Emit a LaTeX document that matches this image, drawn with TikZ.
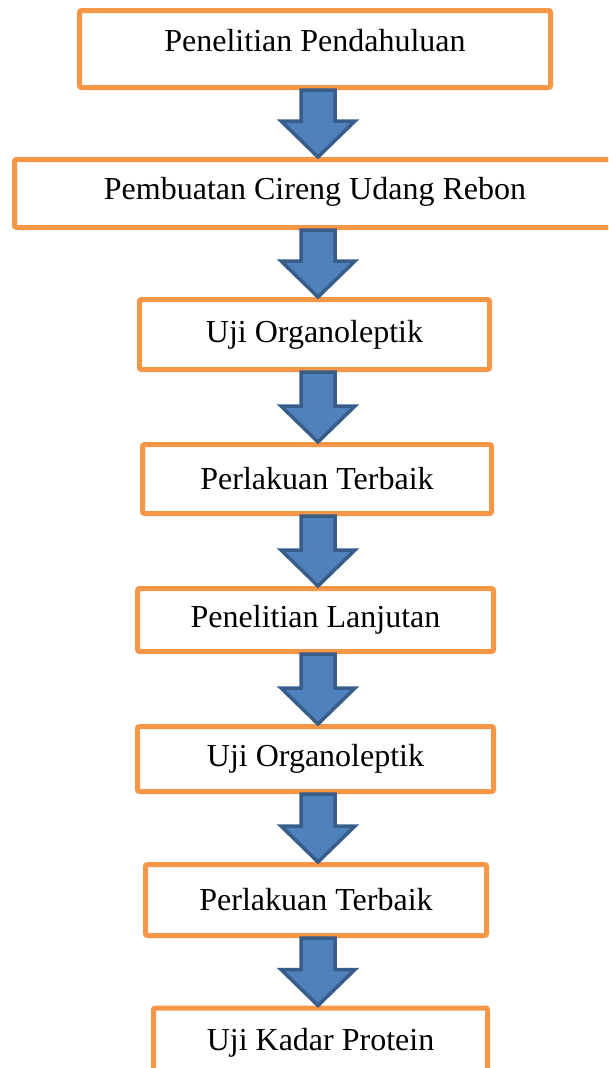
\documentclass[tikz,border=0pt]{standalone}
\usepackage{fontspec}
\setmainfont{Liberation Serif}
\usepackage{tikz}
\usetikzlibrary{calc}
\definecolor{boxorange}{HTML}{F79646}
\definecolor{arrowfill}{HTML}{4F81BD}
\definecolor{arrowline}{HTML}{385D8A}
\newcommand{\stepdown}[2]{%
\draw[flowarrow] ($(axis |- #1.south)+(-17,0)$) -- ($(axis |- #2.north)+(-17,-36)$) -- ($(axis |- #2.north)+(-37,-36)$) -- (axis |- #2.north) -- ($(axis |- #2.north)+(37,-36)$) -- ($(axis |- #2.north)+(17,-36)$) -- ($(axis |- #1.south)+(17,0)$) -- cycle;}

\begin{document}
\begin{tikzpicture}[x=1pt,y=-1pt,
  stepbox/.style={draw=boxorange,line width=5pt,rounded corners=2pt,fill=white,inner sep=0pt,font=\fontsize{32}{38}\selectfont},
  flowarrow/.style={draw=arrowline,fill=arrowfill,line width=3.5pt,line join=miter}]
\useasboundingbox (0,0) rectangle (608,1068);
\clip (0,0) rectangle (608,1068);
\coordinate (axis) at (318,0);
\draw (315,49) node (pendahuluan) [stepbox,minimum width=471pt,minimum height=77pt,text depth=17pt] {Penelitian Pendahuluan};
\draw (315,193.5) node (pembuatan) [stepbox,minimum width=601pt,minimum height=68pt,text depth=10pt] {Pembuatan Cireng Udang Rebon};
\draw (314.5,334.5) node (organo1) [stepbox,minimum width=350pt,minimum height=70pt] {Uji Organoleptik};
\draw (317,479) node (terbaik1) [stepbox,minimum width=349pt,minimum height=69pt] {Perlakuan Terbaik};
\draw (315.5,620) node (lanjutan) [stepbox,minimum width=356pt,minimum height=63pt] {Penelitian Lanjutan};
\draw (315.5,759) node (organo2) [stepbox,minimum width=356pt,minimum height=65pt] {Uji Organoleptik};
\draw (316,900) node (terbaik2) [stepbox,minimum width=341pt,minimum height=71pt] {Perlakuan Terbaik};
\draw (320.5,1043) node (protein) [stepbox,minimum width=334pt,minimum height=70pt] {Uji Kadar Protein};
\stepdown{pendahuluan}{pembuatan}
\stepdown{pembuatan}{organo1}
\stepdown{organo1}{terbaik1}
\stepdown{terbaik1}{lanjutan}
\stepdown{lanjutan}{organo2}
\stepdown{organo2}{terbaik2}
\stepdown{terbaik2}{protein}
\end{tikzpicture}
\end{document}
